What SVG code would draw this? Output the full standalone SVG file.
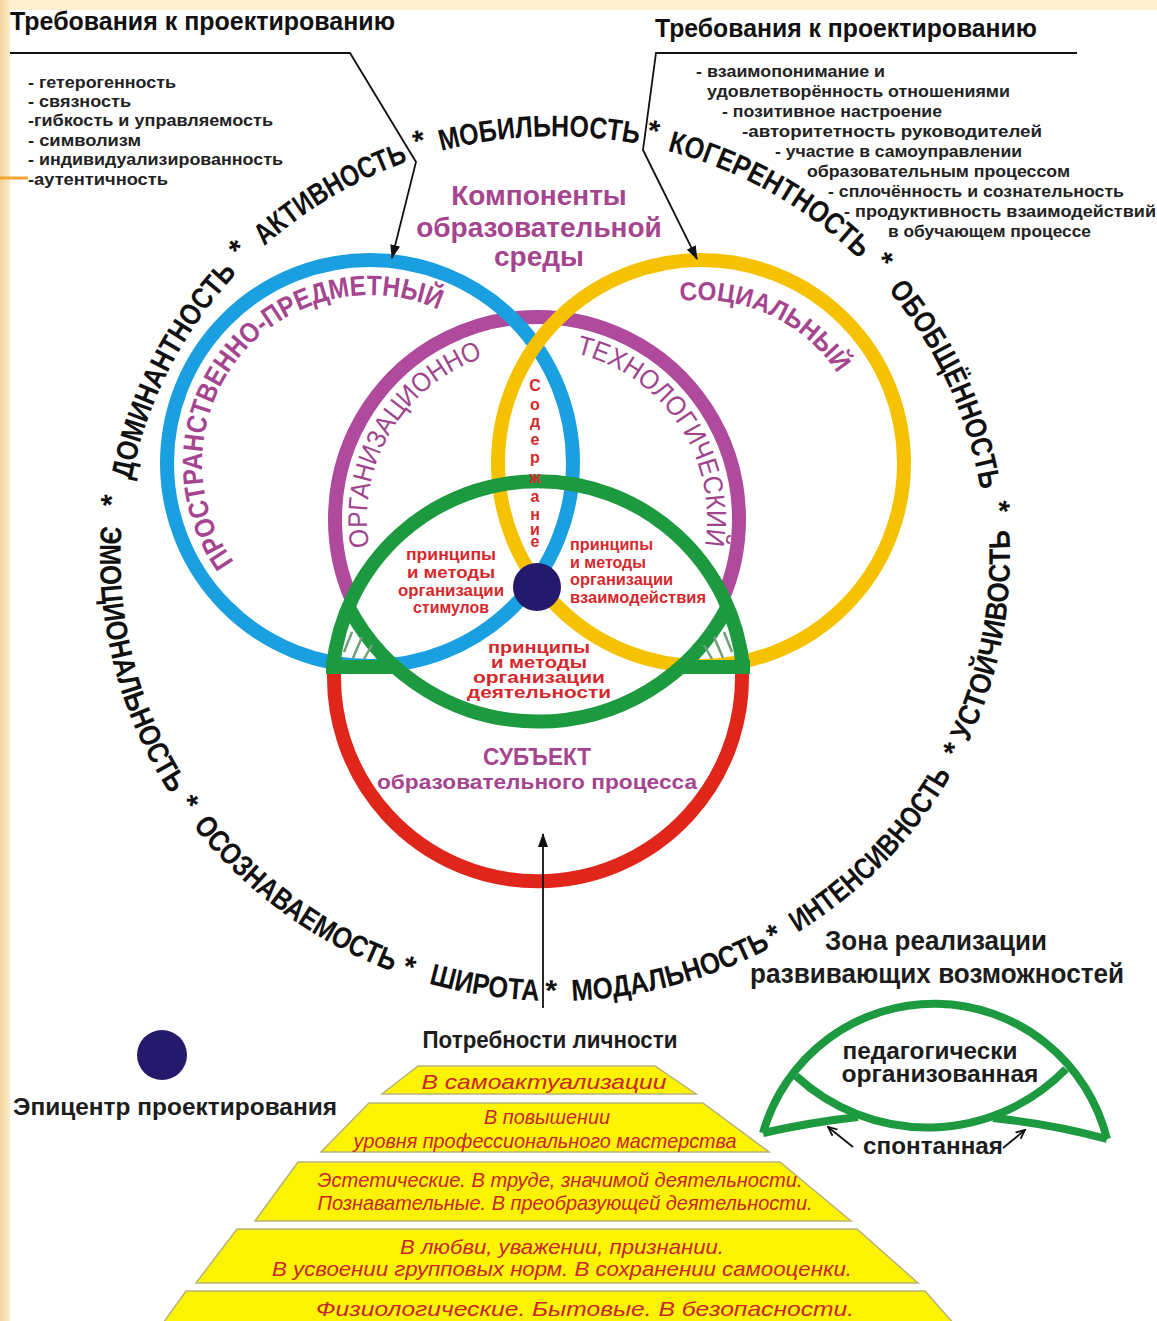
<svg xmlns="http://www.w3.org/2000/svg" width="1157" height="1321" viewBox="0 0 1157 1321">
<defs>
<style>
text{font-family:"Liberation Sans",Arial,"Noto Sans",sans-serif}
.ring{font-size:30px;font-weight:bold;fill:#111}
.blk{font-weight:bold;fill:#1c1c1c}
.lst{font-size:17px;font-weight:bold;fill:#222}
.ttl{font-size:25px;font-weight:bold;fill:#111}
.pur{fill:#a5458f;font-weight:bold}
.purl{fill:#a0448e;font-weight:normal;font-size:27px}
.red{fill:#d6282c;font-weight:bold;font-size:16px}
.pyr{font-style:italic;font-size:21px;fill:#c8262c;text-anchor:middle}
.rc{fill:none;stroke-width:14}
.band{fill:#fcf300;stroke:#b9b27a;stroke-width:1.5}
.ln{fill:none;stroke:#111;stroke-width:1.8}
.hatch{stroke:#6f9f78;stroke-width:2.5}
.lg{fill:none;stroke:#1d9a40;stroke-width:8}
</style>
<linearGradient id="side" x1="0" y1="0" x2="1" y2="0">
<stop offset="0" stop-color="#f1d49c"/><stop offset="1" stop-color="#fcedc8"/>
</linearGradient>
<marker id="ah" viewBox="0 0 14 10" refX="13" refY="5" markerWidth="14" markerHeight="10" markerUnits="userSpaceOnUse" orient="auto"><path d="M0,0 L14,5 L0,10 z" fill="#111"/></marker>
<marker id="ah2" viewBox="0 0 10 10" refX="9" refY="5" markerWidth="10" markerHeight="10" markerUnits="userSpaceOnUse" orient="auto"><path d="M0,1 L9,5 L0,9" fill="none" stroke="#111" stroke-width="1.8"/></marker>
<path id="ringTop" d="M 130.5 630.1 A 431 421 0 1 1 979.5 630.1"/>
<path id="ringBot" d="M 106.9 479.9 A 455 444 0 1 0 1003.1 479.9"/>
<path id="ppPath" d="M 286 608.5 A 168 168 0 1 1 498.7 355"/>
<path id="purpPath" d="M 452 666.2 A 170 170 0 1 1 667.2 628.3"/>
<path id="socPath" d="M 596.2 338.1 A 163 163 0 0 1 864 463"/>
</defs>

<g id="background">
<rect x="0" y="0" width="1157" height="1321" fill="#ffffff"/>
<rect x="0" y="0" width="1157" height="10" fill="#fdf0cf"/>
<rect x="0" y="0" width="10" height="1321" fill="url(#side)"/>
<line x1="0" y1="178" x2="28" y2="178" stroke="#f2a531" stroke-width="3"/>
</g>

<g id="req-left">
<text class="ttl" x="10" y="30" textLength="385" lengthAdjust="spacingAndGlyphs">Требования к проектированию</text>
<text class="lst" x="28" y="88" textLength="148" lengthAdjust="spacingAndGlyphs">- гетерогенность</text>
<text class="lst" x="28" y="107" textLength="103" lengthAdjust="spacingAndGlyphs">- связность</text>
<text class="lst" x="28" y="126" textLength="245" lengthAdjust="spacingAndGlyphs">-гибкость и управляемость</text>
<text class="lst" x="28" y="146" textLength="113" lengthAdjust="spacingAndGlyphs">- символизм</text>
<text class="lst" x="28" y="165" textLength="255" lengthAdjust="spacingAndGlyphs">- индивидуализированность</text>
<text class="lst" x="28" y="185" textLength="140" lengthAdjust="spacingAndGlyphs">-аутентичность</text>
</g>

<g id="req-right">
<text class="ttl" x="655" y="37" textLength="382" lengthAdjust="spacingAndGlyphs">Требования к проектированию</text>
<text class="lst" x="696" y="77" textLength="189" lengthAdjust="spacingAndGlyphs">- взаимопонимание и</text>
<text class="lst" x="707" y="97" textLength="303" lengthAdjust="spacingAndGlyphs">удовлетворённость отношениями</text>
<text class="lst" x="722" y="117" textLength="220" lengthAdjust="spacingAndGlyphs">- позитивное настроение</text>
<text class="lst" x="742" y="137" textLength="300" lengthAdjust="spacingAndGlyphs">-авторитетность руководителей</text>
<text class="lst" x="775" y="157" textLength="247" lengthAdjust="spacingAndGlyphs">- участие в самоуправлении</text>
<text class="lst" x="807" y="177" textLength="263" lengthAdjust="spacingAndGlyphs">образовательным процессом</text>
<text class="lst" x="828" y="197" textLength="296" lengthAdjust="spacingAndGlyphs">- сплочённость и сознательность</text>
<text class="lst" x="844" y="217" textLength="312" lengthAdjust="spacingAndGlyphs">- продуктивность взаимодействий</text>
<text class="lst" x="888" y="237" textLength="203" lengthAdjust="spacingAndGlyphs">в обучающем процессе</text>
</g>

<g id="ring-labels" class="ring" text-anchor="middle">
<text><textPath href="#ringTop" startOffset="8.6%"><tspan dy="-6">*</tspan></textPath></text>
<text><textPath href="#ringTop" startOffset="18.1%" textLength="236" lengthAdjust="spacingAndGlyphs">ДОМИНАНТНОСТЬ</textPath></text>
<text><textPath href="#ringTop" startOffset="27.2%"><tspan dy="-6">*</tspan></textPath></text>
<text><textPath href="#ringTop" startOffset="34.25%" textLength="168" lengthAdjust="spacingAndGlyphs">АКТИВНОСТЬ</textPath></text>
<text><textPath href="#ringTop" startOffset="41.05%"><tspan dy="-6">*</tspan></textPath></text>
<text><textPath href="#ringTop" startOffset="48.95%" textLength="199" lengthAdjust="spacingAndGlyphs">МОБИЛЬНОСТЬ</textPath></text>
<text><textPath href="#ringTop" startOffset="56.45%"><tspan dy="-6">*</tspan></textPath></text>
<text><textPath href="#ringTop" startOffset="65.15%" textLength="223" lengthAdjust="spacingAndGlyphs">КОГЕРЕНТНОСТЬ</textPath></text>
<text><textPath href="#ringTop" startOffset="73.9%"><tspan dy="-6">*</tspan></textPath></text>
<text><textPath href="#ringTop" startOffset="83%" textLength="223" lengthAdjust="spacingAndGlyphs">ОБОБЩЁННОСТЬ</textPath></text>
<text><textPath href="#ringTop" startOffset="91.8%"><tspan dy="-6">*</tspan></textPath></text>
<text><textPath href="#ringBot" startOffset="11.95%" textLength="282" lengthAdjust="spacingAndGlyphs">ЭМОЦИОНАЛЬНОСТЬ</textPath></text>
<text><textPath href="#ringBot" startOffset="22.1%">*</textPath></text>
<text><textPath href="#ringBot" startOffset="31.4%" textLength="250" lengthAdjust="spacingAndGlyphs">ОСОЗНАВАЕМОСТЬ</textPath></text>
<text><textPath href="#ringBot" startOffset="40.3%">*</textPath></text>
<text><textPath href="#ringBot" startOffset="45.4%" textLength="112" lengthAdjust="spacingAndGlyphs">ШИРОТА</textPath></text>
<text><textPath href="#ringBot" startOffset="49.75%">*</textPath></text>
<text><textPath href="#ringBot" startOffset="57.7%" textLength="207" lengthAdjust="spacingAndGlyphs">МОДАЛЬНОСТЬ</textPath></text>
<text><textPath href="#ringBot" startOffset="64.9%">*</textPath></text>
<text><textPath href="#ringBot" startOffset="73.4%" textLength="223" lengthAdjust="spacingAndGlyphs">ИНТЕНСИВНОСТЬ</textPath></text>
<text><textPath href="#ringBot" startOffset="81.95%">*</textPath></text>
<text><textPath href="#ringBot" startOffset="89.8%" textLength="219" lengthAdjust="spacingAndGlyphs">УСТОЙЧИВОСТЬ</textPath></text>
</g>

<g id="components-title" class="pur" font-size="28" text-anchor="middle">
<text x="539" y="205">Компоненты</text>
<text x="539" y="237">образовательной</text>
<text x="539" y="266">среды</text>
</g>

<g id="circle-organizational">
<path class="rc" stroke="#b04a9c" d="M 351.95 600 A 202 202 0 1 1 722.05 600"/>
</g>
<g id="circle-spatial">
<circle class="rc" stroke="#1a9fe0" cx="370" cy="463" r="203"/>
</g>
<g id="circle-social">
<circle class="rc" stroke="#f6c200" cx="701" cy="463" r="203"/>
</g>
<g id="circle-subject">
<path class="rc" stroke="#e0251b" d="M 741.2 659.2 A 204 204 0 1 1 334.8 659.2"/>
</g>
<g id="zone-green">
<path class="rc" stroke="#1d9a40" d="M 333 667 A 206 206 0 0 1 743 667"/>
<path class="rc" stroke="#1d9a40" d="M 348.5 607 A 214 214 0 0 0 727.5 607"/>
<path class="rc" stroke="#1d9a40" d="M 326 667 L 398 667 M 678 667 L 750 667"/>
<g class="hatch">
<line x1="344" y1="652" x2="352" y2="632"/>
<line x1="353" y1="658" x2="362" y2="637"/>
<line x1="364" y1="659" x2="372" y2="645"/>
<line x1="732" y1="652" x2="724" y2="632"/>
<line x1="723" y1="658" x2="714" y2="637"/>
<line x1="712" y1="659" x2="704" y2="645"/>
</g>
</g>
<g id="epicenter">
<circle cx="537" cy="587" r="24" fill="#24196b"/>
</g>

<g id="arc-labels">
<text class="pur" font-size="28" text-anchor="middle"><textPath href="#ppPath" startOffset="49.5%" textLength="440" lengthAdjust="spacingAndGlyphs">ПРОСТРАНСТВЕННО-ПРЕДМЕТНЫЙ</textPath></text>
<text class="purl" text-anchor="middle"><textPath href="#purpPath" startOffset="32.5%" textLength="240" lengthAdjust="spacingAndGlyphs">ОРГАНИЗАЦИОННО</textPath></text>
<text class="purl" text-anchor="middle"><textPath href="#purpPath" startOffset="73.6%" textLength="255" lengthAdjust="spacingAndGlyphs">ТЕХНОЛОГИЧЕСКИЙ</textPath></text>
<text class="pur" font-size="26" text-anchor="middle"><textPath href="#socPath" startOffset="49.8%" textLength="182" lengthAdjust="spacingAndGlyphs">СОЦИАЛЬНЫЙ</textPath></text>
</g>

<g id="content-label" class="red" font-size="18" text-anchor="middle">
<text><tspan x="535" y="391">С</tspan><tspan x="535" y="409.5">о</tspan><tspan x="535" y="426.5">д</tspan><tspan x="535" y="444.5">е</tspan><tspan x="535" y="462.5">р</tspan><tspan x="535" y="482.5">ж</tspan><tspan x="535" y="501.5">а</tspan><tspan x="535" y="519.5">н</tspan><tspan x="535" y="534.5">и</tspan><tspan x="535" y="547">е</tspan></text>
</g>

<g id="principles-stimuli" class="red" text-anchor="middle">
<text x="451" y="560" textLength="90" lengthAdjust="spacingAndGlyphs">принципы</text>
<text x="451" y="578" textLength="88" lengthAdjust="spacingAndGlyphs">и методы</text>
<text x="451" y="596" textLength="106" lengthAdjust="spacingAndGlyphs">организации</text>
<text x="451" y="613" textLength="76" lengthAdjust="spacingAndGlyphs">стимулов</text>
</g>
<g id="principles-interaction" class="red">
<text x="570" y="550" textLength="83" lengthAdjust="spacingAndGlyphs">принципы</text>
<text x="570" y="568" textLength="76" lengthAdjust="spacingAndGlyphs">и методы</text>
<text x="570" y="585" textLength="103" lengthAdjust="spacingAndGlyphs">организации</text>
<text x="570" y="603" textLength="136" lengthAdjust="spacingAndGlyphs">взаимодействия</text>
</g>
<g id="principles-activity" class="red" text-anchor="middle">
<text x="539" y="653" textLength="102" lengthAdjust="spacingAndGlyphs">принципы</text>
<text x="539" y="668" textLength="96" lengthAdjust="spacingAndGlyphs">и методы</text>
<text x="539" y="683" textLength="132" lengthAdjust="spacingAndGlyphs">организации</text>
<text x="539" y="698" textLength="144" lengthAdjust="spacingAndGlyphs">деятельности</text>
</g>

<g id="subject-label" class="pur" text-anchor="middle">
<text x="537" y="765" font-size="24" textLength="108" lengthAdjust="spacingAndGlyphs">СУБЪЕКТ</text>
<text x="537" y="789" font-size="21" textLength="320" lengthAdjust="spacingAndGlyphs">образовательного процесса</text>
</g>

<g id="legend-epicenter">
<circle cx="162" cy="1055" r="25" fill="#24196b"/>
<text class="blk" x="13" y="1115" font-size="24" textLength="324" lengthAdjust="spacingAndGlyphs">Эпицентр проектирования</text>
</g>

<g id="needs-pyramid">
<text class="blk" x="550" y="1048" font-size="24" text-anchor="middle" textLength="255" lengthAdjust="spacingAndGlyphs">Потребности личности</text>
<polygon class="band" points="418,1066 655,1066 696,1094 382,1094"/>
<polygon class="band" points="369,1103 703,1103 769,1152 321,1152"/>
<polygon class="band" points="298,1162 780,1162 851,1221 255,1221"/>
<polygon class="band" points="237,1229 857,1229 918,1283 196,1283"/>
<polygon class="band" points="186,1291 925,1291 962,1333 156,1333"/>
<text class="pyr" x="544" y="1089" textLength="245" lengthAdjust="spacingAndGlyphs">В самоактуализации</text>
<text class="pyr" x="547" y="1124" textLength="126" lengthAdjust="spacingAndGlyphs">В повышении</text>
<text class="pyr" x="545" y="1148" textLength="383" lengthAdjust="spacingAndGlyphs">уровня профессионального мастерства</text>
<text class="pyr" x="560" y="1187" textLength="485" lengthAdjust="spacingAndGlyphs">Эстетические. В труде, значимой деятельности.</text>
<text class="pyr" x="565" y="1210" textLength="495" lengthAdjust="spacingAndGlyphs">Познавательные. В преобразующей деятельности.</text>
<text class="pyr" x="562" y="1254" textLength="324" lengthAdjust="spacingAndGlyphs">В любви, уважении, признании.</text>
<text class="pyr" x="562" y="1276" textLength="580" lengthAdjust="spacingAndGlyphs">В усвоении групповых норм. В сохранении самооценки.</text>
<text class="pyr" x="585" y="1316" textLength="538" lengthAdjust="spacingAndGlyphs">Физиологические. Бытовые. В безопасности.</text>
</g>

<g id="legend-zone">
<text class="blk" x="936" y="950" font-size="28" text-anchor="middle" textLength="222" lengthAdjust="spacingAndGlyphs">Зона реализации</text>
<text class="blk" x="937" y="983" font-size="28" text-anchor="middle" textLength="374" lengthAdjust="spacingAndGlyphs">развивающих возможностей</text>
<path class="lg" d="M 763 1133 A 178 178 0 0 1 1107 1139"/>
<path class="lg" d="M 796 1076 A 193.5 193.5 0 0 0 1066 1069"/>
<path class="lg" d="M 763 1133 Q 812 1122 858 1117"/>
<path class="lg" d="M 993 1118 Q 1052 1124 1107 1139"/>
<text class="blk" x="930" y="1059" font-size="23" text-anchor="middle" textLength="175" lengthAdjust="spacingAndGlyphs">педагогически</text>
<text class="blk" x="940" y="1082" font-size="23" text-anchor="middle" textLength="197" lengthAdjust="spacingAndGlyphs">организованная</text>
<text class="blk" x="933" y="1154" font-size="23" text-anchor="middle" textLength="140" lengthAdjust="spacingAndGlyphs">спонтанная</text>
</g>

<g id="connectors">
<polyline class="ln" points="10,53 350,53 416,162 392,258" marker-end="url(#ah)"/>
<polyline class="ln" points="1077,53 656,53 643,150 697,259" marker-end="url(#ah)"/>
<line class="ln" x1="543" y1="1008" x2="543" y2="834" marker-end="url(#ah)"/>
<line class="ln" x1="853" y1="1147" x2="828" y2="1127" marker-end="url(#ah2)"/>
<line class="ln" x1="1003" y1="1148" x2="1025" y2="1130" marker-end="url(#ah2)"/>
</g>
</svg>
